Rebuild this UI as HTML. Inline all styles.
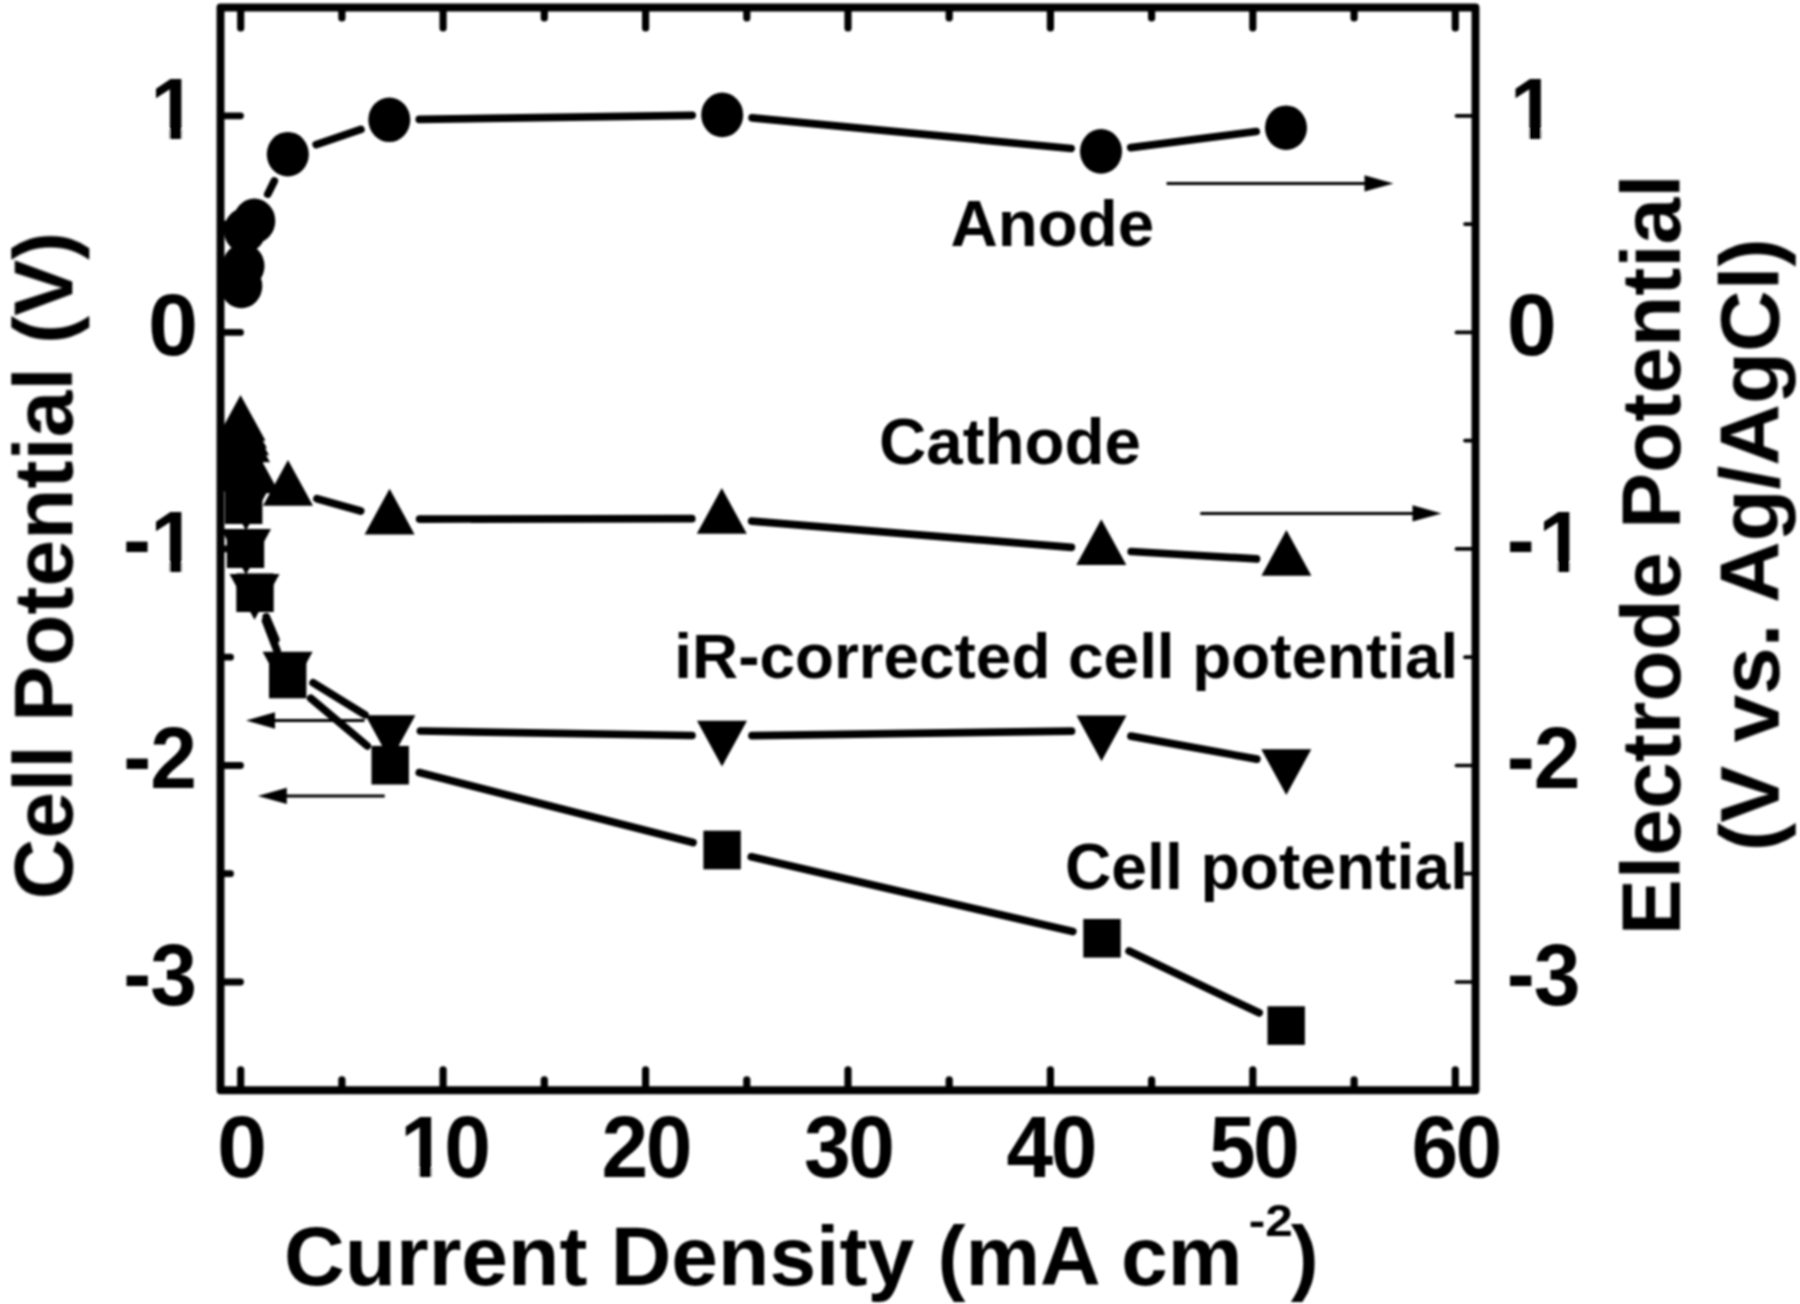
<!DOCTYPE html>
<html lang="en"><head><meta charset="utf-8"><title>Polarization curves</title>
<style>html,body{margin:0;padding:0;background:#fff}svg{display:block}</style></head>
<body>
<svg width="1800" height="1304" viewBox="0 0 1800 1304">
<rect x="0" y="0" width="1800" height="1304" fill="#fff"/>
<defs><filter id="soft" x="0" y="0" width="1800" height="1304" filterUnits="userSpaceOnUse"><feGaussianBlur stdDeviation="1.3"/></filter></defs>
<g filter="url(#soft)">
<g fill="none" stroke="#000" stroke-linecap="round">
<line x1="240.7" y1="1088.3" x2="240.7" y2="1069.8" stroke-width="7.2"/>
<line x1="240.7" y1="9.5" x2="240.7" y2="28.0" stroke-width="7.2"/>
<line x1="341.9" y1="1088.3" x2="341.9" y2="1079.8" stroke-width="7.2"/>
<line x1="341.9" y1="9.5" x2="341.9" y2="18.0" stroke-width="7.2"/>
<line x1="443.1" y1="1088.3" x2="443.1" y2="1069.8" stroke-width="7.2"/>
<line x1="443.1" y1="9.5" x2="443.1" y2="28.0" stroke-width="7.2"/>
<line x1="544.3" y1="1088.3" x2="544.3" y2="1079.8" stroke-width="7.2"/>
<line x1="544.3" y1="9.5" x2="544.3" y2="18.0" stroke-width="7.2"/>
<line x1="645.6" y1="1088.3" x2="645.6" y2="1069.8" stroke-width="7.2"/>
<line x1="645.6" y1="9.5" x2="645.6" y2="28.0" stroke-width="7.2"/>
<line x1="746.8" y1="1088.3" x2="746.8" y2="1079.8" stroke-width="7.2"/>
<line x1="746.8" y1="9.5" x2="746.8" y2="18.0" stroke-width="7.2"/>
<line x1="848.0" y1="1088.3" x2="848.0" y2="1069.8" stroke-width="7.2"/>
<line x1="848.0" y1="9.5" x2="848.0" y2="28.0" stroke-width="7.2"/>
<line x1="949.2" y1="1088.3" x2="949.2" y2="1079.8" stroke-width="7.2"/>
<line x1="949.2" y1="9.5" x2="949.2" y2="18.0" stroke-width="7.2"/>
<line x1="1050.4" y1="1088.3" x2="1050.4" y2="1069.8" stroke-width="7.2"/>
<line x1="1050.4" y1="9.5" x2="1050.4" y2="28.0" stroke-width="7.2"/>
<line x1="1151.6" y1="1088.3" x2="1151.6" y2="1079.8" stroke-width="7.2"/>
<line x1="1151.6" y1="9.5" x2="1151.6" y2="18.0" stroke-width="7.2"/>
<line x1="1252.8" y1="1088.3" x2="1252.8" y2="1069.8" stroke-width="7.2"/>
<line x1="1252.8" y1="9.5" x2="1252.8" y2="28.0" stroke-width="7.2"/>
<line x1="1354.1" y1="1088.3" x2="1354.1" y2="1079.8" stroke-width="7.2"/>
<line x1="1354.1" y1="9.5" x2="1354.1" y2="18.0" stroke-width="7.2"/>
<line x1="1455.3" y1="1088.3" x2="1455.3" y2="1069.8" stroke-width="7.2"/>
<line x1="1455.3" y1="9.5" x2="1455.3" y2="28.0" stroke-width="7.2"/>
<line x1="220.5" y1="982.0" x2="240.5" y2="982.0" stroke-width="6.8"/>
<line x1="1475.5" y1="982.0" x2="1456.5" y2="982.0" stroke-width="3.7"/>
<line x1="220.5" y1="873.7" x2="230.5" y2="873.7" stroke-width="6.8"/>
<line x1="1475.5" y1="873.7" x2="1465.0" y2="873.7" stroke-width="3.7"/>
<line x1="220.5" y1="765.5" x2="240.5" y2="765.5" stroke-width="6.8"/>
<line x1="1475.5" y1="765.5" x2="1456.5" y2="765.5" stroke-width="3.7"/>
<line x1="220.5" y1="657.2" x2="230.5" y2="657.2" stroke-width="6.8"/>
<line x1="1475.5" y1="657.2" x2="1465.0" y2="657.2" stroke-width="3.7"/>
<line x1="220.5" y1="548.9" x2="240.5" y2="548.9" stroke-width="6.8"/>
<line x1="1475.5" y1="548.9" x2="1456.5" y2="548.9" stroke-width="3.7"/>
<line x1="220.5" y1="440.6" x2="230.5" y2="440.6" stroke-width="6.8"/>
<line x1="1475.5" y1="440.6" x2="1465.0" y2="440.6" stroke-width="3.7"/>
<line x1="220.5" y1="332.4" x2="240.5" y2="332.4" stroke-width="6.8"/>
<line x1="1475.5" y1="332.4" x2="1456.5" y2="332.4" stroke-width="3.7"/>
<line x1="220.5" y1="224.1" x2="230.5" y2="224.1" stroke-width="6.8"/>
<line x1="1475.5" y1="224.1" x2="1465.0" y2="224.1" stroke-width="3.7"/>
<line x1="220.5" y1="115.8" x2="240.5" y2="115.8" stroke-width="6.8"/>
<line x1="1475.5" y1="115.8" x2="1456.5" y2="115.8" stroke-width="3.7"/>
</g>
<rect x="220.5" y="7.5" width="1255.0" height="1082.8" fill="none" stroke="#000" stroke-width="7.9" stroke-linejoin="round"/>
<clipPath id="plot"><rect x="220.5" y="7.5" width="1255.0" height="1082.8"/></clipPath>
<g clip-path="url(#plot)">
<g stroke="#000" stroke-width="7.7" stroke-linecap="round" fill="none">
<line x1="267.8" y1="194.1" x2="274.3" y2="181.0"/>
<line x1="316.2" y1="144.6" x2="360.9" y2="129.4"/>
<line x1="419.3" y1="119.4" x2="692.2" y2="115.3"/>
<line x1="752.1" y1="117.8" x2="1071.1" y2="148.5"/>
<line x1="1130.8" y1="147.6" x2="1256.2" y2="131.5"/>
<line x1="316.9" y1="498.7" x2="360.7" y2="511.0"/>
<line x1="419.6" y1="519.1" x2="691.8" y2="518.7"/>
<line x1="751.7" y1="521.1" x2="1071.4" y2="547.3"/>
<line x1="1131.2" y1="551.5" x2="1256.5" y2="558.9"/>
<line x1="266.3" y1="616.9" x2="275.8" y2="639.4"/>
<line x1="313.1" y1="682.8" x2="364.9" y2="714.7"/>
<line x1="420.4" y1="731.0" x2="692.0" y2="735.5"/>
<line x1="752.0" y1="735.6" x2="1071.5" y2="731.1"/>
<line x1="1131.0" y1="736.1" x2="1256.8" y2="759.1"/>
<line x1="265.6" y1="620.8" x2="277.1" y2="650.9"/>
<line x1="310.7" y1="698.3" x2="367.2" y2="745.9"/>
<line x1="419.3" y1="772.6" x2="693.0" y2="842.6"/>
<line x1="751.3" y1="856.8" x2="1072.8" y2="931.5"/>
<line x1="1129.1" y1="951.1" x2="1259.1" y2="1012.8"/>
</g>
<g fill="#000">
<ellipse cx="241.3" cy="286" rx="21" ry="22.3"/>
<ellipse cx="243.5" cy="266" rx="21" ry="22.3"/>
<ellipse cx="244.8" cy="230.4" rx="21" ry="22.3"/>
<ellipse cx="254.3" cy="220.9" rx="21" ry="22.3"/>
<ellipse cx="287.8" cy="154.2" rx="21" ry="22.3"/>
<ellipse cx="389.3" cy="119.8" rx="21" ry="22.3"/>
<ellipse cx="722.2" cy="114.9" rx="21" ry="22.3"/>
<ellipse cx="1101" cy="151.4" rx="21" ry="22.3"/>
<ellipse cx="1286" cy="127.7" rx="21" ry="22.3"/>
<polygon points="240.5,395.0 215.5,440.7 265.5,440.7"/>
<polygon points="242,402.5 217.0,448.2 267.0,448.2"/>
<polygon points="244,409.5 219.0,455.2 269.0,455.2"/>
<polygon points="245,416.5 220.0,462.2 270.0,462.2"/>
<polygon points="254.5,447.5 229.5,493.2 279.5,493.2"/>
<polygon points="288,460.0 263.0,505.7 313.0,505.7"/>
<polygon points="389.6,488.7 364.6,534.4 414.6,534.4"/>
<polygon points="721.8,488.1 696.8,533.8 746.8,533.8"/>
<polygon points="1101.3,519.3 1076.3,565.0 1126.3,565.0"/>
<polygon points="1286.4,530.1 1261.4,575.8 1311.4,575.8"/>
<polygon points="241,502.5 216.0,456.8 266.0,456.8"/>
<polygon points="246,530.5 221.0,484.8 271.0,484.8"/>
<polygon points="246,574.7 221.0,529.0 271.0,529.0"/>
<polygon points="254.5,619.8 229.5,574.1 279.5,574.1"/>
<polygon points="287.6,697.5 262.6,651.8 312.6,651.8"/>
<polygon points="390.4,761.0 365.4,715.3 415.4,715.3"/>
<polygon points="722,766.5 697.0,720.8 747.0,720.8"/>
<polygon points="1101.5,761.2 1076.5,715.5 1126.5,715.5"/>
<polygon points="1286.3,795.0 1261.3,749.3 1311.3,749.3"/>
<rect x="222.3" y="452.7" width="37.4" height="38.6"/>
<rect x="225.0" y="485.4" width="37.4" height="38.6"/>
<rect x="226.8" y="529.4" width="37.4" height="38.6"/>
<rect x="236.3" y="573.4" width="37.4" height="38.6"/>
<rect x="269.0" y="659.7" width="37.4" height="38.6"/>
<rect x="371.5" y="745.9" width="37.4" height="38.6"/>
<rect x="703.4" y="830.7" width="37.4" height="38.6"/>
<rect x="1083.3" y="919.0" width="37.4" height="38.6"/>
<rect x="1267.5" y="1006.3" width="37.4" height="38.6"/>
</g>
</g>
<line x1="1166.6" y1="183.4" x2="1370.3" y2="183.4" stroke="#000" stroke-width="3.0"/>
<polygon points="1393.5,183.4 1364.5,175.20000000000002 1364.5,191.6" fill="#000"/>
<line x1="1200.3" y1="513.4" x2="1418.3" y2="513.4" stroke="#000" stroke-width="3.0"/>
<polygon points="1441.5,513.4 1412.5,505.2 1412.5,521.6" fill="#000"/>
<line x1="364.5" y1="720.5" x2="269.2" y2="720.5" stroke="#000" stroke-width="3.0"/>
<polygon points="246.0,720.5 275.0,712.3 275.0,728.7" fill="#000"/>
<line x1="384.7" y1="795.9" x2="281.0" y2="795.9" stroke="#000" stroke-width="3.0"/>
<polygon points="257.8,795.9 286.8,787.6999999999999 286.8,804.1" fill="#000"/>
<g font-family="'Liberation Sans', Arial, Helvetica, sans-serif" font-weight="700" fill="#000">
<text transform="translate(149.9,0) scale(0.96,1)" x="0.4" y="138.6" font-size="87.5">1</text>
<text transform="translate(1506.8,0) scale(0.96,1)" x="3.1" y="138.6" font-size="87.5">1</text>
<text transform="translate(148.1,0) scale(1.03,1)" x="0.0" y="355.2" font-size="87.5">0</text>
<text transform="translate(1506.8,0) scale(1.03,1)" x="0.0" y="355.2" font-size="87.5">0</text>
<text transform="translate(122.9,0) scale(0.96,1)" x="0.0 28.5" y="569.5 571.7" font-size="87.5">-1</text>
<text transform="translate(1506.8,0) scale(0.96,1)" x="0.0 32.9" y="569.5 571.7" font-size="87.5">-1</text>
<text transform="translate(123.3,0) scale(0.96,1)" x="0.0 28.1" y="786.0 788.2" font-size="87.5">-2</text>
<text transform="translate(1506.8,0) scale(0.96,1)" x="0.0 28.1" y="786.0 788.2" font-size="87.5">-2</text>
<text transform="translate(123.3,0) scale(0.96,1)" x="0.0 28.1" y="1002.6 1004.8" font-size="87.5">-3</text>
<text transform="translate(1506.8,0) scale(0.96,1)" x="0.0 28.1" y="1002.6 1004.8" font-size="87.5">-3</text>
<text transform="translate(217.1,0) scale(1.03,1)" x="0.0" y="1177.2" font-size="87.5">0</text>
<text transform="translate(400.0,0) scale(0.96,1)" x="0.0 46.0" y="1177.2 1177.2" font-size="87.5">10</text>
<text transform="translate(601.6,0) scale(0.96,1)" x="0.0 46.0" y="1177.2 1177.2" font-size="87.5">20</text>
<text transform="translate(804.1,0) scale(0.96,1)" x="0.0 46.0" y="1177.2 1177.2" font-size="87.5">30</text>
<text transform="translate(1006.5,0) scale(0.96,1)" x="0.0 46.0" y="1177.2 1177.2" font-size="87.5">40</text>
<text transform="translate(1208.9,0) scale(0.96,1)" x="0.0 46.0" y="1177.2 1177.2" font-size="87.5">50</text>
<text transform="translate(1411.4,0) scale(0.96,1)" x="0.0 46.0" y="1177.2 1177.2" font-size="87.5">60</text>
<text transform="translate(72.3,565.6) rotate(-90)" font-size="84" text-anchor="middle">Cell Potential (V)</text>
<text transform="translate(1679.9,554.7) rotate(-90)" font-size="84" text-anchor="middle">Electrode Potential</text>
<text transform="translate(1778.7,544.7) rotate(-90)" font-size="84" text-anchor="middle" textLength="613" lengthAdjust="spacingAndGlyphs">(V vs. Ag/AgCl)</text>
<text x="284" y="1284.6" font-size="84">Current Density (mA cm</text>
<text x="1248.8" y="1236.2" font-size="44" textLength="44" lengthAdjust="spacingAndGlyphs">-2</text>
<text x="1290.8" y="1284.6" font-size="84">)</text>
<text x="950.5" y="246.2" font-size="65.5">Anode</text>
<text x="879" y="463.6" font-size="65.5">Cathode</text>
<text x="674.3" y="677.6" font-size="63.85">iR-corrected cell potential</text>
<text x="1065" y="889.4" font-size="64.2">Cell potential</text>
</g>
<g fill="#fff">
<rect x="153.8" y="129.4" width="15.8" height="10.2"/>
<rect x="181.7" y="129.4" width="14.8" height="10.2"/>
<rect x="1513.3" y="129.4" width="15.8" height="10.2"/>
<rect x="1541.2" y="129.4" width="14.8" height="10.2"/>
<rect x="153.8" y="562.5" width="15.8" height="10.2"/>
<rect x="181.7" y="562.5" width="14.8" height="10.2"/>
<rect x="1541.9" y="562.5" width="15.8" height="10.2"/>
<rect x="1569.8" y="562.5" width="14.8" height="10.2"/>
<rect x="403.5" y="1168.0" width="15.8" height="10.2"/>
<rect x="431.4" y="1168.0" width="14.8" height="10.2"/>
</g>
</g>
</svg>
</body></html>
